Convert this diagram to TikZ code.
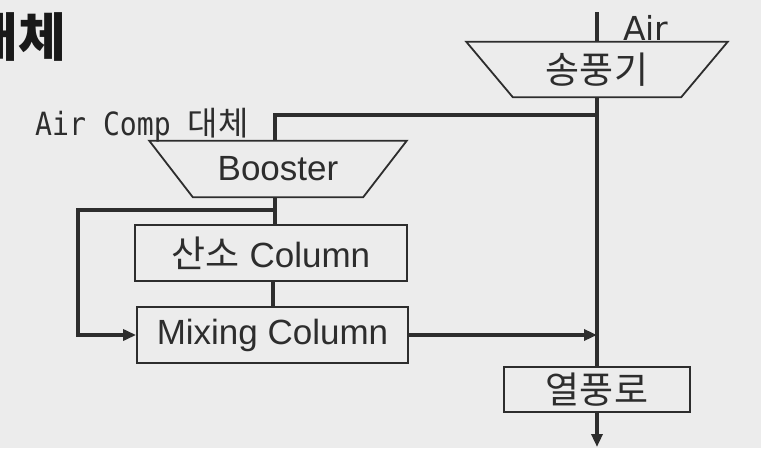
\documentclass[tikz,border=0pt]{standalone}
\usepackage{fontspec}
\setmainfont{Liberation Sans}
\newfontfamily\kr{Noto Sans CJK KR}
\newfontfamily\gmono[FakeStretch=0.88]{DejaVu Sans Mono}
\newfontfamily\dvs{DejaVu Sans}
\newcommand\krbig{\kr\fontsize{37}{40}\selectfont}
\usetikzlibrary{arrows.meta}
\definecolor{bg}{RGB}{236,236,236}
\definecolor{ink}{RGB}{45,45,45}
\definecolor{titleink}{RGB}{25,25,25}
\begin{document}
\begin{tikzpicture}[x=1pt,y=-1pt,
  conn/.style={draw=ink,line width=3.5pt},
  arr/.style={conn,-{Triangle[length=13pt,width=11pt]}},
  boxst/.style={draw=ink,line width=1.8pt,fill=bg,inner sep=0pt,text=ink},
  trap/.style={draw=ink,line width=1.8pt,line join=miter},
  lbl/.style={inner sep=0pt,text=ink},
  big/.style={font=\fontsize{35}{38}\selectfont}]
\useasboundingbox (0,0) rectangle (761,448);
\fill[bg] (0,0) rectangle (761,448);
\clip (0,0) rectangle (761,448);

% title fragment
\node[inner sep=0pt,anchor=base west,text=titleink,font=\kr\bfseries\fontsize{52}{56}\selectfont] (title) at (-30,56) {대체};

% blower
\node[lbl,big,minimum width=168pt,minimum height=55pt] (sp) at (597,69.5) {\krbig 송풍기};
\draw[trap] ([xshift=-46.5pt]sp.north west) -- ([xshift=46.5pt]sp.north east) -- (sp.south east) -- (sp.south west) -- cycle;
\node[lbl,anchor=base west,font=\dvs\fontsize{33}{36}\selectfont] (airlbl) at (623,40) {Air};

% booster
\node[lbl,big,minimum width=170pt,minimum height=56pt] (booster) at (278,169) {Booster};
\draw[trap] ([xshift=-43.5pt]booster.north west) -- ([xshift=43.5pt]booster.north east) -- (booster.south east) -- (booster.south west) -- cycle;
\node[lbl,anchor=base west] (aclbl) at (35,135) {{\gmono\fontsize{32}{36}\selectfont Air Comp }{\kr\fontsize{33}{36}\selectfont 대체}};

% columns
\node[boxst,big,minimum width=272pt,minimum height=56pt] (o2) at (271,253) {{\krbig 산소} Column};
\node[boxst,big,minimum width=271pt,minimum height=56pt] (mix) at (272.5,335) {Mixing Column};
\node[boxst,big,minimum width=186pt,minimum height=45pt] (yeol) at (597,389.5) {\krbig 열풍로};

% coordinates
\coordinate (airtop) at (597,12);
\coordinate (j1) at (597,115);
\coordinate (j2) at (275,210);
\coordinate (out) at (597,447);

% connectors
\draw[conn] (airtop) -- (sp.north);
\draw[conn] (sp.south) -- (yeol.north);
\draw[conn] (j1) -| ([xshift=-3pt]booster.north);
\draw[conn] ([xshift=-3pt]booster.south) -- ([xshift=-3pt]booster.south |- o2.north);
\draw[arr] (j2) -- ++(-197,0) |- (mix.west);
\draw[conn] ([xshift=2pt]o2.south) -- ([xshift=2pt]o2.south |- mix.north);
\draw[arr] (mix.east) -- (mix.east -| sp.south);
\draw[arr] (yeol.south) -- (out);
\end{tikzpicture}
\end{document}
